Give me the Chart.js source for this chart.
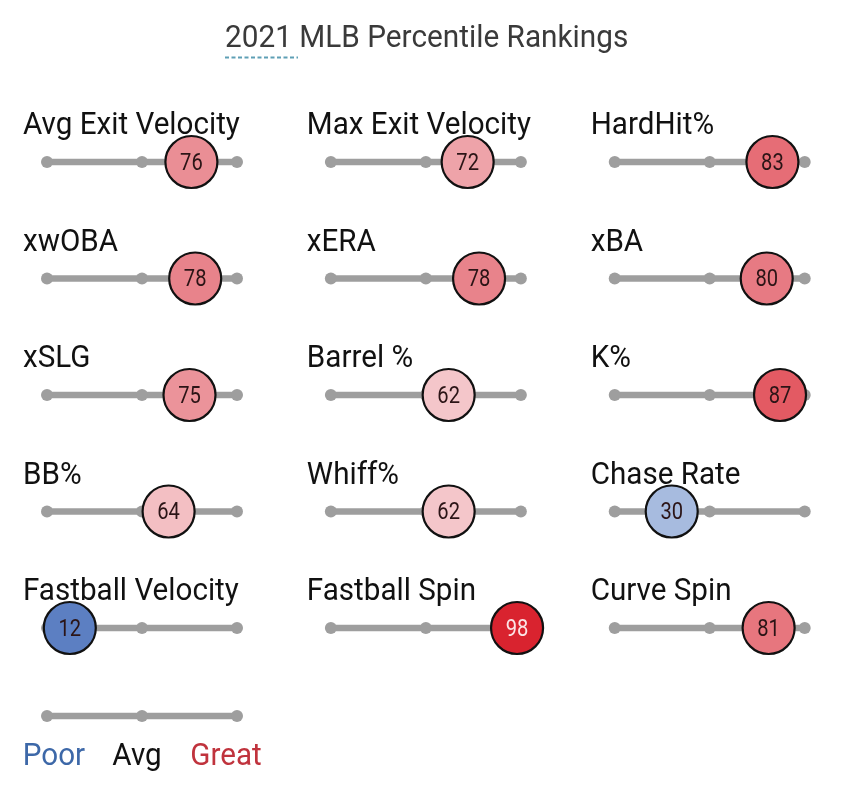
<!DOCTYPE html>
<html>
<head>
<meta charset="utf-8">
<title>2021 MLB Percentile Rankings</title>
<script src="https://cdn.jsdelivr.net/npm/chart.js@4/dist/chart.umd.min.js"></script>
<style>
  html, body { margin: 0; padding: 0; background: #fff; }
  #wrap { width: 850px; height: 787px; position: relative; }
</style>
</head>
<body>
<div id="wrap"><canvas id="chart"></canvas></div>
<script>
// Percentile data
const metrics = [
  'Avg Exit Velocity', 'Max Exit Velocity', 'HardHit%',
  'xwOBA', 'xERA', 'xBA',
  'xSLG', 'Barrel %', 'K%',
  'BB%', 'Whiff%', 'Chase Rate',
  'Fastball Velocity', 'Fastball Spin', 'Curve Spin'
];
const percentiles = [76, 72, 83, 78, 78, 80, 75, 62, 87, 64, 62, 30, 12, 98, 81];
const trackTicks = [0, 50, 100];
const legendLabels = ['Poor', 'Avg', 'Great'];
const titleText = '2021 MLB Percentile Rankings';

// layout (in scale units)
const COLS = 3;
const COL_SPAN = 149.4;   // x offset between columns, percentile units
const LEGEND_ROW = 4.755;
const FONT = 'Roboto, "DejaVu Sans", sans-serif';

// colour ramp Poor -> Avg -> Great
const colorStops = [
  [0, [58, 98, 176]], [12, [92, 127, 194]], [30, [167, 187, 223]],
  [50, [246, 236, 238]], [62, [244, 198, 202]], [72, [238, 163, 169]],
  [78, [232, 131, 139]], [83, [230, 109, 118]], [87, [227, 90, 99]],
  [98, [217, 35, 47]], [100, [213, 31, 43]]
];
function pctColor(p) {
  for (let i = 1; i < colorStops.length; i++) {
    const [p1, c1] = colorStops[i];
    const [p0, c0] = colorStops[i - 1];
    if (p <= p1) {
      const t = (p - p0) / (p1 - p0);
      const c = c0.map((v, k) => Math.round(v + (c1[k] - v) * t));
      return `rgb(${c[0]},${c[1]},${c[2]})`;
    }
  }
  return 'rgb(213,31,43)';
}

const colOf = i => i % COLS;
const rowOf = i => Math.floor(i / COLS);

// track lines, one per metric
const trackSets = metrics.map((m, i) => ({
  type: 'line',
  label: m + ' track',
  data: trackTicks.map(t => ({ x: colOf(i) * COL_SPAN + t, y: rowOf(i) })),
  borderColor: '#9e9e9e',
  backgroundColor: '#9e9e9e',
  borderWidth: 6.5,
  borderCapStyle: 'round',
  pointRadius: 6,
  pointBorderWidth: 0,
  showLine: true,
  clip: false,
  order: 2
}));

const legendSet = {
  type: 'line',
  label: 'legend track',
  data: trackTicks.map(t => ({ x: t, y: LEGEND_ROW })),
  borderColor: '#9e9e9e',
  backgroundColor: '#9e9e9e',
  borderWidth: 6.5,
  pointRadius: 6,
  pointBorderWidth: 0,
  showLine: true,
  clip: false,
  order: 2
};

const bubbleSet = {
  type: 'scatter',
  label: 'percentile',
  data: percentiles.map((p, i) => ({ x: colOf(i) * COL_SPAN + p, y: rowOf(i) })),
  backgroundColor: percentiles.map(pctColor),
  borderColor: '#111',
  borderWidth: 2.2,
  pointRadius: 26,
  clip: false,
  order: 0
};

function squeezedText(ctx, text, x, y, align, sq) {
  ctx.save();
  const w = ctx.measureText(text).width * sq;
  let left = x;
  if (align === 'center') left = x - w / 2;
  ctx.translate(left, y);
  ctx.scale(sq, 1);
  ctx.textAlign = 'left';
  ctx.fillText(text, 0, 0);
  ctx.restore();
  return w;
}

const textPlugin = {
  id: 'sliderText',
  afterDatasetsDraw(chart) {
    const { ctx, scales: { x, y } } = chart;
    ctx.save();
    ctx.textBaseline = 'alphabetic';

    // title
    ctx.fillStyle = '#3a3a3a';
    ctx.font = `32px ${FONT}`;
    const tx = 225;
    squeezedText(ctx, titleText, tx, 47, 'left', 0.93);
    ctx.strokeStyle = '#5e9fb5';
    ctx.lineWidth = 2;
    ctx.setLineDash([4, 2.5]);
    ctx.beginPath();
    ctx.moveTo(tx, 57.5);
    ctx.lineTo(tx + 73, 57.5);
    ctx.stroke();
    ctx.setLineDash([]);

    // metric names
    ctx.fillStyle = '#111';
    ctx.font = `31px ${FONT}`;
    metrics.forEach((m, i) => {
      const px = x.getPixelForValue(colOf(i) * COL_SPAN) - 24;
      const py = y.getPixelForValue(rowOf(i)) - 28;
      squeezedText(ctx, m, px, py, 'left', 0.955);
    });

    // values in circles
    ctx.font = `24px ${FONT}`;
    ctx.textBaseline = 'middle';
    percentiles.forEach((p, i) => {
      const px = x.getPixelForValue(colOf(i) * COL_SPAN + p);
      const py = y.getPixelForValue(rowOf(i)) + 1.5;
      ctx.fillStyle = p >= 95 ? '#fbe4e6' : '#2b1416';
      squeezedText(ctx, String(p), px, py, 'center', 0.84);
    });

    // legend labels
    ctx.textBaseline = 'alphabetic';
    ctx.font = `31px ${FONT}`;
    const legendColors = ['#3d68a8', '#111', '#c0333d'];
    const ly = y.getPixelForValue(LEGEND_ROW) + 49;
    const offs = [7, -5, -11];
    legendLabels.forEach((t, k) => {
      const cx = x.getPixelForValue(trackTicks[k]);
      ctx.fillStyle = legendColors[k];
      squeezedText(ctx, t, cx + offs[k], ly, 'center', 0.955);
    });
    ctx.restore();
  }
};

const pxPerUnit = 1.9;
new Chart(document.getElementById('chart'), {
  data: { datasets: [bubbleSet, ...trackSets, legendSet] },
  options: {
    responsive: true,
    maintainAspectRatio: false,
    animation: false,
    events: [],
    layout: { padding: 0, autoPadding: false },
    plugins: { legend: { display: false }, tooltip: { enabled: false }, title: { display: false } },
    scales: {
      x: { type: 'linear', display: false, min: -47 / pxPerUnit, max: 803 / pxPerUnit },
      y: { type: 'linear', display: false, reverse: true, min: -162 / 116.5, max: 625 / 116.5 }
    }
  },
  plugins: [textPlugin]
});
</script>
</body>
</html>
